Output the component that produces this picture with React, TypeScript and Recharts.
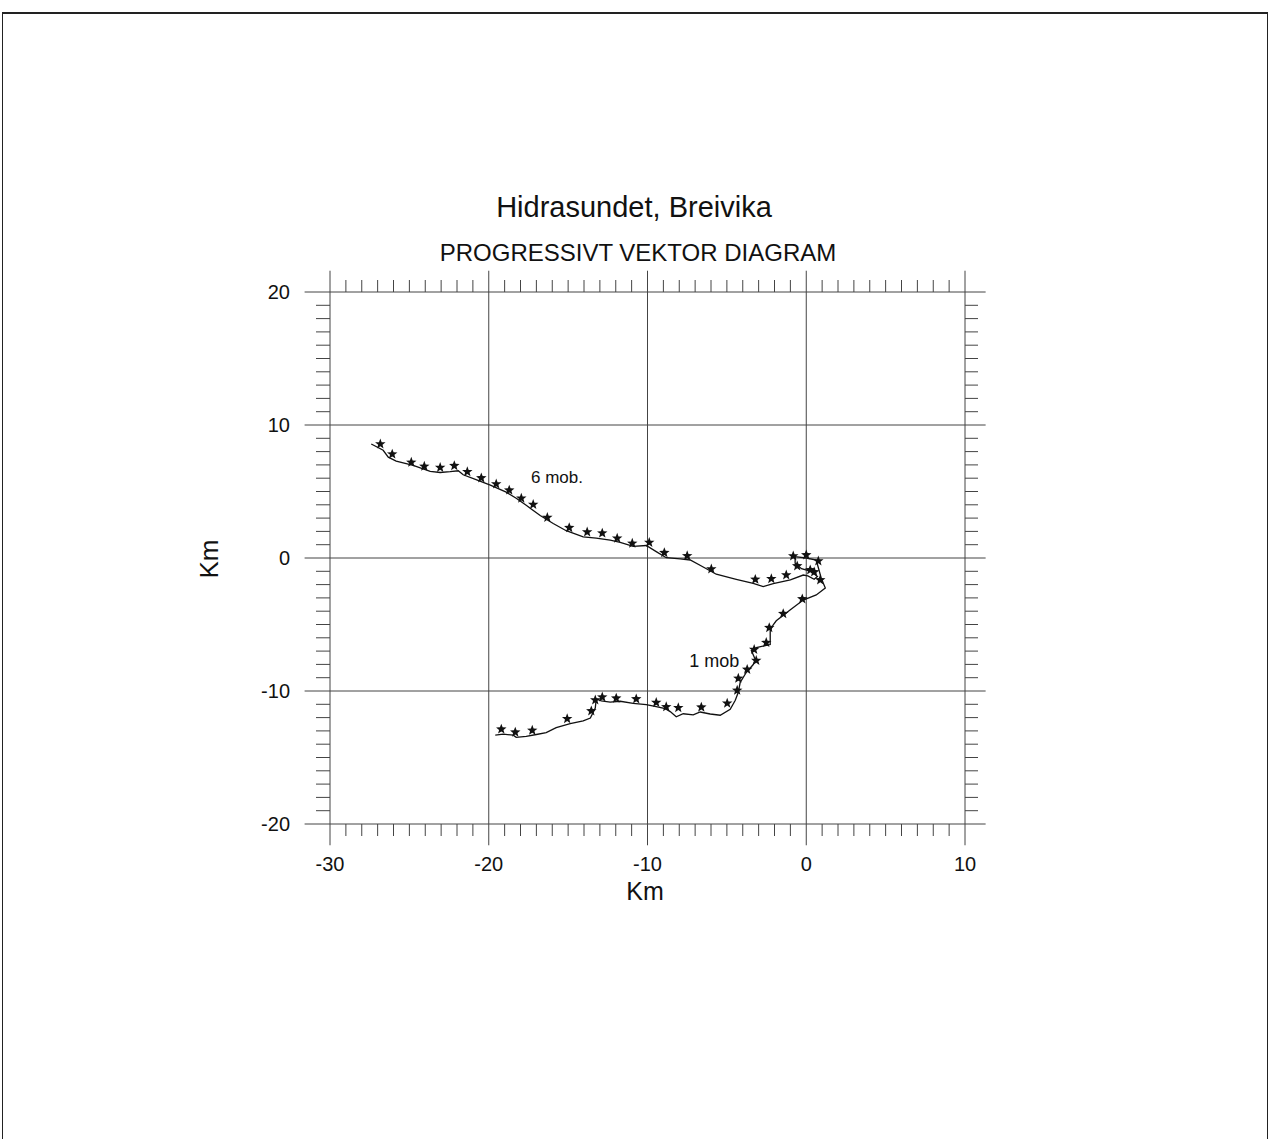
import React from "react";
import { ReferenceDot, ReferenceLine, Scatter, ScatterChart, XAxis, YAxis } from "recharts";

// tick values (km)
const xTicks = [
  -30, -29, -28, -27, -26, -25, -24, -23, -22, -21, -20, -19, -18, -17, -16, -15, -14, -13, -12, -11,
  -10, -9, -8, -7, -6, -5, -4, -3, -2, -1, 0, 1, 2, 3, 4, 5, 6, 7, 8, 9, 10
];
const yTicks = [
  -20, -19, -18, -17, -16, -15, -14, -13, -12, -11, -10, -9, -8, -7, -6, -5, -4, -3, -2, -1, 0,
  1, 2, 3, 4, 5, 6, 7, 8, 9, 10, 11, 12, 13, 14, 15, 16, 17, 18, 19, 20
];
const gridX = [-30, -20, -10, 0, 10];
const gridY = [-20, -10, 0, 10, 20];

// 6 mob. track, from origin westwards
const track6 = [
  { x: 0, y: 0 }, { x: -0.7, y: 0.1 }, { x: -0.7, y: -0.4 }, { x: -0.3, y: -0.8 },
  { x: 0.3, y: -1.0 }, { x: 0.7, y: -1.4 }, { x: 0.5, y: -1.6 }, { x: 0.1, y: -1.35 },
  { x: -0.19, y: -1.28 }, { x: -1.0, y: -1.64 }, { x: -2.08, y: -1.93 }, { x: -2.71, y: -2.15 },
  { x: -3.34, y: -1.91 }, { x: -4.41, y: -1.6 }, { x: -5.67, y: -1.22 }, { x: -6.49, y: -0.68 },
  { x: -7.31, y: -0.15 }, { x: -7.94, y: -0.06 }, { x: -8.82, y: 0.02 }, { x: -9.45, y: 0.48 },
  { x: -10.08, y: 0.94 }, { x: -10.9, y: 0.87 }, { x: -11.72, y: 1.18 }, { x: -12.35, y: 1.34 },
  { x: -13.23, y: 1.5 }, { x: -14.05, y: 1.59 }, { x: -15.12, y: 2.05 }, { x: -15.94, y: 2.59 },
  { x: -16.76, y: 3.19 }, { x: -17.64, y: 3.96 }, { x: -18.27, y: 4.49 }, { x: -18.9, y: 4.95 },
  { x: -19.9, y: 5.48 }, { x: -20.76, y: 5.87 }, { x: -21.61, y: 6.26 }, { x: -21.92, y: 6.56 },
  { x: -22.43, y: 6.49 }, { x: -23.06, y: 6.43 }, { x: -23.69, y: 6.51 }, { x: -24.76, y: 6.97 },
  { x: -25.83, y: 7.28 }, { x: -26.33, y: 7.58 }, { x: -26.65, y: 8.1 }, { x: -27.4, y: 8.57 }
];
const stars6 = [
  { x: -26.83, y: 8.57 }, { x: -26.08, y: 7.81 }, { x: -24.88, y: 7.19 }, { x: -24.06, y: 6.89 },
  { x: -23.06, y: 6.8 }, { x: -22.17, y: 6.94 }, { x: -21.35, y: 6.48 }, { x: -20.47, y: 6.02 },
  { x: -19.53, y: 5.56 }, { x: -18.71, y: 5.1 }, { x: -17.95, y: 4.49 }, { x: -17.2, y: 4.02 },
  { x: -16.31, y: 3.04 }, { x: -14.93, y: 2.28 }, { x: -13.8, y: 1.95 }, { x: -12.85, y: 1.87 },
  { x: -11.91, y: 1.48 }, { x: -10.96, y: 1.1 }, { x: -9.89, y: 1.16 }, { x: -8.94, y: 0.4 },
  { x: -7.5, y: 0.16 }, { x: -5.98, y: -0.83 }, { x: -3.21, y: -1.61 }, { x: -2.2, y: -1.56 },
  { x: -1.26, y: -1.28 }, { x: -0.82, y: 0.15 }, { x: 0, y: 0.23 }, { x: 0.76, y: -0.23 },
  { x: -0.57, y: -0.6 }, { x: 0.25, y: -0.9 }, { x: 0.5, y: -1.05 }, { x: 0.88, y: -1.65 }
];

// 1 mob track, from origin south-westwards
const track1 = [
  { x: 0, y: 0 }, { x: 0.63, y: -0.15 }, { x: 0.94, y: -1.5 }, { x: 1.2, y: -2.26 },
  { x: 0.63, y: -2.78 }, { x: -0.19, y: -3.16 }, { x: -1.0, y: -3.89 }, { x: -1.89, y: -4.72 },
  { x: -2.08, y: -5.02 }, { x: -2.27, y: -5.46 }, { x: -2.27, y: -6.51 }, { x: -2.58, y: -6.59 },
  { x: -3.15, y: -6.73 }, { x: -3.46, y: -6.95 }, { x: -3.21, y: -7.63 }, { x: -3.34, y: -8.01 },
  { x: -3.78, y: -8.61 }, { x: -4.16, y: -9.35 }, { x: -4.28, y: -10.1 }, { x: -4.47, y: -10.7 },
  { x: -4.79, y: -11.38 }, { x: -5.42, y: -11.82 }, { x: -6.05, y: -11.73 }, { x: -6.68, y: -11.58 },
  { x: -7.12, y: -11.8 }, { x: -7.75, y: -11.71 }, { x: -8.19, y: -11.94 }, { x: -8.57, y: -11.55 },
  { x: -8.88, y: -11.33 }, { x: -9.45, y: -11.18 }, { x: -10.08, y: -11.02 }, { x: -10.9, y: -10.93 },
  { x: -11.72, y: -10.77 }, { x: -12.35, y: -10.84 }, { x: -12.91, y: -10.75 }, { x: -13.23, y: -10.6 },
  { x: -13.29, y: -11.28 }, { x: -13.6, y: -12.03 }, { x: -14.05, y: -12.25 }, { x: -14.87, y: -12.46 },
  { x: -15.75, y: -12.75 }, { x: -16.38, y: -13.13 }, { x: -17.0, y: -13.27 }, { x: -17.64, y: -13.41 },
  { x: -18.27, y: -13.48 }, { x: -18.46, y: -13.32 }, { x: -19.09, y: -13.25 }, { x: -19.59, y: -13.31 }
];
const stars1 = [
  { x: -0.25, y: -3.08 }, { x: -1.45, y: -4.19 }, { x: -2.33, y: -5.24 }, { x: -2.52, y: -6.36 },
  { x: -3.28, y: -6.88 }, { x: -3.15, y: -7.71 }, { x: -3.72, y: -8.38 }, { x: -4.28, y: -9.05 },
  { x: -4.35, y: -9.95 }, { x: -4.98, y: -10.92 }, { x: -6.61, y: -11.22 }, { x: -8.06, y: -11.26 },
  { x: -8.82, y: -11.19 }, { x: -9.45, y: -10.87 }, { x: -10.71, y: -10.6 }, { x: -11.97, y: -10.54 },
  { x: -12.85, y: -10.46 }, { x: -13.29, y: -10.68 }, { x: -13.54, y: -11.5 }, { x: -15.06, y: -12.09 },
  { x: -17.26, y: -12.96 }, { x: -18.33, y: -13.1 }, { x: -19.21, y: -12.87 }
];

const ink = "#111";
const gridInk = "#444";
const font = "'Liberation Sans', Arial, Helvetica, sans-serif";

const W = 1272;
const H = 1139;

const isMajor = (v: number) => v % 10 === 0;

const BottomTick = (props: any) => {
  const { x, y, payload } = props;
  if (isMajor(payload.value)) {
    return (
      <text x={x} y={y + 47} textAnchor="middle" fontSize={20} fontFamily={font} fill={ink}>
        {payload.value}
      </text>
    );
  }
  return <line x1={x} y1={y} x2={x} y2={y + 12} stroke={gridInk} />;
};

const TopTick = (props: any) => {
  const { x, y, payload } = props;
  if (isMajor(payload.value)) return <g />;
  return <line x1={x} y1={y} x2={x} y2={y - 12} stroke={gridInk} />;
};

const LeftTick = (props: any) => {
  const { x, y, payload } = props;
  if (isMajor(payload.value)) {
    return (
      <text x={x - 40} y={y + 7} textAnchor="end" fontSize={20} fontFamily={font} fill={ink}>
        {payload.value}
      </text>
    );
  }
  return <line x1={x} y1={y} x2={x - 14} y2={y} stroke={gridInk} />;
};

const RightTick = (props: any) => {
  const { x, y, payload } = props;
  if (isMajor(payload.value)) return <g />;
  return <line x1={x} y1={y} x2={x + 13} y2={y} stroke={gridInk} />;
};

const Star = (props: any) => {
  const { cx, cy } = props;
  const pts: string[] = [];
  for (let i = 0; i < 10; i++) {
    const r = i % 2 === 0 ? 5.5 : 2.3;
    const a = -Math.PI / 2 + (i * Math.PI) / 5;
    pts.push(`${cx + r * Math.cos(a)},${cy + r * Math.sin(a)}`);
  }
  return <polygon points={pts.join(" ")} fill={ink} />;
};

const NoDot = () => <g />;

export default function App() {
  return (
    <div
      style={{
        position: "absolute",
        left: 0,
        top: 0,
        width: W,
        height: H,
        overflow: "hidden",
        background: "#fff"
      }}
    >
      {/* scanned page frame */}
      <div
        style={{
          position: "absolute",
          left: 2,
          top: 12,
          width: 1264,
          height: H,
          borderTop: "2px solid #222",
          borderLeft: "1.5px solid #222",
          borderRight: "1.5px solid #222"
        }}
      />
      <div style={{ position: "absolute", left: 0, top: 0 }}>
        <ScatterChart
          width={W}
          height={H}
          margin={{ top: 262, right: 277, bottom: 255, left: 270 }}
        >
          <XAxis
            xAxisId="b"
            type="number"
            dataKey="x"
            domain={[-30, 10]}
            ticks={xTicks}
            interval={0}
            height={60}
            axisLine={false}
            tickLine={false}
            tickSize={0}
            tickMargin={0}
            tick={BottomTick}
            allowDataOverflow
          />
          <XAxis
            xAxisId="t"
            orientation="top"
            type="number"
            dataKey="x"
            domain={[-30, 10]}
            ticks={xTicks}
            interval={0}
            height={30}
            axisLine={false}
            tickLine={false}
            tickSize={0}
            tickMargin={0}
            tick={TopTick}
            allowDataOverflow
          />
          <YAxis
            yAxisId="l"
            type="number"
            dataKey="y"
            domain={[-20, 20]}
            ticks={yTicks}
            interval={0}
            width={60}
            axisLine={false}
            tickLine={false}
            tickSize={0}
            tickMargin={0}
            tick={LeftTick}
            allowDataOverflow
          />
          <YAxis
            yAxisId="r"
            orientation="right"
            type="number"
            dataKey="y"
            domain={[-20, 20]}
            ticks={yTicks}
            interval={0}
            width={30}
            axisLine={false}
            tickLine={false}
            tickSize={0}
            tickMargin={0}
            tick={RightTick}
            allowDataOverflow
          />
          {gridX.map((v) => (
            <ReferenceLine
              key={"gx" + v}
              xAxisId="b"
              yAxisId="l"
              segment={[
                { x: v, y: -21.6 },
                { x: v, y: 21.6 }
              ]}
              ifOverflow="visible"
              stroke={gridInk}
              strokeWidth={1}
            />
          ))}
          {gridY.map((v) => (
            <ReferenceLine
              key={"gy" + v}
              xAxisId="b"
              yAxisId="l"
              segment={[
                { x: -31.6, y: v },
                { x: 11.3, y: v }
              ]}
              ifOverflow="visible"
              stroke={gridInk}
              strokeWidth={1}
            />
          ))}
          <Scatter
            xAxisId="b"
            yAxisId="l"
            data={track6}
            line={{ stroke: ink, strokeWidth: 1.3 }}
            shape={NoDot}
            isAnimationActive={false}
          />
          <Scatter
            xAxisId="b"
            yAxisId="l"
            data={track1}
            line={{ stroke: ink, strokeWidth: 1.3 }}
            shape={NoDot}
            isAnimationActive={false}
          />
          <Scatter xAxisId="b" yAxisId="l" data={stars6} shape={Star} isAnimationActive={false} />
          <Scatter xAxisId="b" yAxisId="l" data={stars1} shape={Star} isAnimationActive={false} />
          <ReferenceDot
            xAxisId="b"
            yAxisId="l"
            x={-15.7}
            y={6.1}
            r={0}
            stroke="none"
            fill="none"
            label={{ value: "6 mob.", position: "center", fontSize: 17, fontFamily: font, fill: ink }}
          />
          <ReferenceDot
            xAxisId="b"
            yAxisId="l"
            x={-5.8}
            y={-7.75}
            r={0}
            stroke="none"
            fill="none"
            label={{ value: "1 mob", position: "center", fontSize: 18, fontFamily: font, fill: ink }}
          />
        </ScatterChart>
      </div>
      <svg
        width={W}
        height={H}
        style={{ position: "absolute", left: 0, top: 0, pointerEvents: "none" }}
      >
        <text x={634} y={217} textAnchor="middle" fontSize={29} fontFamily={font} fill={ink}>
          Hidrasundet, Breivika
        </text>
        <text x={638} y={261} textAnchor="middle" fontSize={24} fontFamily={font} fill={ink}>
          PROGRESSIVT VEKTOR DIAGRAM
        </text>
        <text x={645} y={900} textAnchor="middle" fontSize={25} fontFamily={font} fill={ink}>
          Km
        </text>
        <text
          x={0}
          y={0}
          transform="translate(218,559) rotate(-90)"
          textAnchor="middle"
          fontSize={26}
          fontFamily={font}
          fill={ink}
        >
          Km
        </text>
      </svg>
    </div>
  );
}
